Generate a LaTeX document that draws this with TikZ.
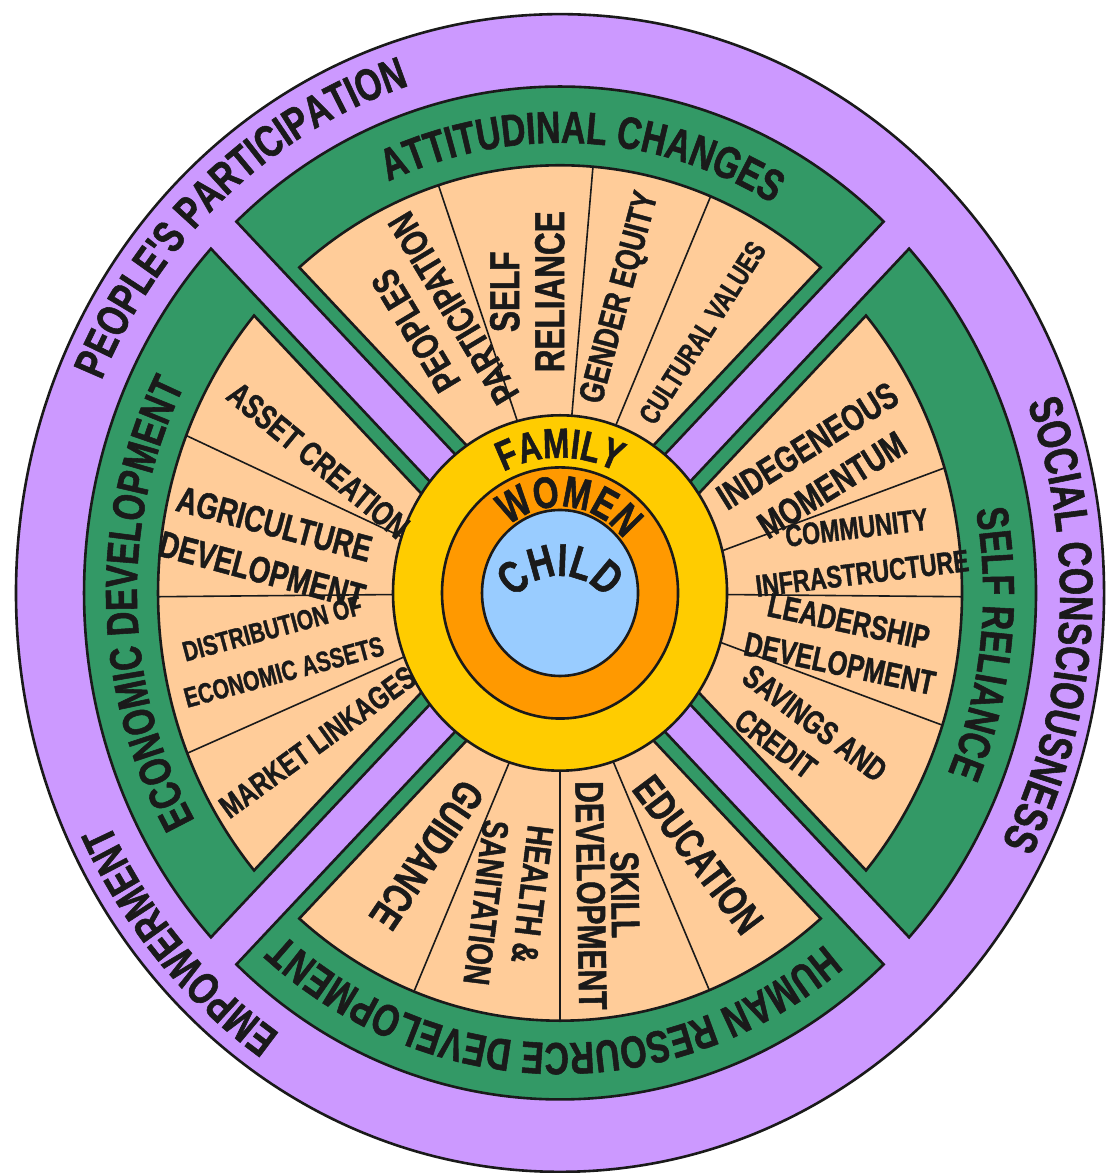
\documentclass[tikz,border=0pt]{standalone}
\usepackage{fontspec}
\setmainfont{Liberation Sans}
\newfontfamily\condfont[FakeStretch=0.75, FakeBold=1.2]{Liberation Sans Bold}
\usetikzlibrary{decorations.text}
\definecolor{wheelPurple}{HTML}{CC99FF}
\definecolor{wheelGreen}{HTML}{339966}
\definecolor{wheelPeach}{HTML}{FFCC99}
\definecolor{wheelYellow}{HTML}{FFCC00}
\definecolor{wheelOrange}{HTML}{FF9900}
\definecolor{wheelBlue}{HTML}{99CCFF}
\definecolor{wheelInk}{HTML}{1A1A1A}
% quadrant piece between two diagonals: style, mid angle, offset, inner r, outer r
\newcommand{\quadBand}[5]{
  \filldraw[#1] ({#2+45-asin(#3/#5)}:#5)
    arc[start angle={#2+45-asin(#3/#5)}, end angle={#2-45+asin(#3/#5)}, radius=#5]
    -- ({#2-45+asin(#3/#4)}:#4)
    arc[start angle={#2-45+asin(#3/#4)}, end angle={#2+45-asin(#3/#4)}, radius=#4]
    -- cycle;}

\begin{document}
\begin{tikzpicture}[
    x=0.5pt, y=0.532pt,
    outline/.style={draw=wheelInk, line width=1.3pt},
    band/.style={outline, fill=wheelGreen},
    fan/.style={outline, fill=wheelPeach},
    divline/.style={draw=wheelInk, line width=0.8pt},
    seclab/.style 2 args={font=\condfont\fontsize{#1}{#2}\selectfont,
                          text=wheelInk, align=center, inner sep=0pt},
    arctext/.style 2 args={decorate, decoration={text along path, text align=center,
                          text color=wheelInk, text={|\condfont\fontsize{#1}{#1}\selectfont|#2}}}
]
\useasboundingbox (-560,-545.1) rectangle (548,557.3);

% -- outer ring
\filldraw[outline, fill=wheelPurple] (0,0) circle[radius=544];

% -- green bands
\quadBand{band}{90}{18}{160}{476}
\quadBand{band}{0}{18}{160}{476}
\quadBand{band}{-90}{18}{160}{476}
\quadBand{band}{180}{18}{160}{476}

% -- peach fans
\quadBand{fan}{90}{32}{160}{402}
\quadBand{fan}{0}{32}{160}{402}
\quadBand{fan}{-90}{32}{160}{402}
\quadBand{fan}{180}{32}{160}{402}

% -- fan dividers
\draw[divline] (104.6:160) -- (107.6:402);
\draw[divline] (86:160) -- (85.3:402);
\draw[divline] (70.7:160) -- (68:402);
\draw[divline] (13.5:160) -- (17:402);
\draw[divline] (-0.5:160) -- (-0.5:402);
\draw[divline] (-16:160) -- (-18:402);
\draw[divline] (-107.4:160) -- (-111.3:402);
\draw[divline] (-90:160) -- (-90:402);
\draw[divline] (-71.7:160) -- (-68.2:402);
\draw[divline] (161.8:160) -- (158.4:402);
\draw[divline] (180.5:160) -- (180.5:402);
\draw[divline] (201:160) -- (202:402);

% -- centre rings
\filldraw[outline, fill=wheelYellow] (0,0) circle[radius=167];
\filldraw[outline, fill=wheelOrange] (0,0) circle[radius=118];
\filldraw[outline, fill=wheelBlue] (0,0) circle[radius=78];

% -- outer ring words
\path[arctext={22.5}{PEOPLE'S PARTICIPATION}] (191:500) arc[start angle=191, end angle=71, radius=500];
\path[arctext={23.5}{SOCIAL CONSCIOUSNESS}] (56.3:500) arc[start angle=56.3, end angle=-63.7, radius=500];
\path[arctext={22.5}{EMPOWERMENT}] (-78:500) arc[start angle=-78, end angle=-198, radius=500];

% -- green band words
\path[arctext={22.5}{ATTITUDINAL CHANGES}] (147:423) arc[start angle=147, end angle=27, radius=423];
\path[arctext={22.5}{SELF RELIANCE}] (53.3:423) arc[start angle=53.3, end angle=-66.7, radius=423];
\path[arctext={22.5}{HUMAN RESOURCE DEVELOPMENT}] (-26:423) arc[start angle=-26, end angle=-156, radius=423];
\path[arctext={22.5}{ECONOMIC DEVELOPMENT}] (241.5:423) arc[start angle=241.5, end angle=121.5, radius=423];

% -- centre words
\path[arctext={21}{FAMILY}] (170:127) arc[start angle=170, end angle=10, radius=127];
\path[arctext={22}{WOMEN}] (174:81) arc[start angle=174, end angle=-6, radius=81];
\path[arctext={23}{CHILD}] ([shift={(0,-44)}]170:60) arc[start angle=170, end angle=10, radius=60];

% -- top fan
\node[seclab={19}{22}, rotate=121] (peoples) at (116:286) {PEOPLES\\PARTICIPATION};
\node[seclab={21}{22.5}, rotate=90] (selfrel) at (96.6:285) {SELF\\RELIANCE};
\node[seclab={17.5}{21}, rotate=75] (gender) at (77.6:284) {GENDER EQUITY};
\node[seclab={14.5}{18}, rotate=57.5] (cultural) at (59.8:283) {CULTURAL VALUES};

% -- right fan
\node[seclab={18.5}{23}, rotate=32] (indeg) at (24.8:286) {INDEGENEOUS\\MOMENTUM};
\node[seclab={15.5}{23}, rotate=7] (commun) at (7.6:302) {COMMUNITY\\INFRASTRUCTURE};
\node[seclab={17}{21.5}, rotate=-12] (leader) at (-9.3:288) {LEADERSHIP\\DEVELOPMENT};
\node[seclab={16.5}{20}, rotate=-37, align=left] (savings) at (-29.5:279) {SAVINGS AND\\\hspace*{10pt}CREDIT};

% -- bottom fan
\node[seclab={21}{24}, rotate=-124] (guidance) at (-118.4:280) {GUIDANCE};
\node[seclab={18.5}{22.5}, rotate=-97, align=left] (health) at (-100:298) {HEALTH \&\\SANITATION};
\node[seclab={20}{17}, rotate=-89] (skill) at (-80.4:288) {SKILL\\DEVELOPMENT};
\node[seclab={21}{24}, rotate=-53] (education) at (-60.7:282) {EDUCATION};

% -- left fan
\node[seclab={17}{20}, rotate=-39.5] (asset) at (152.7:272) {ASSET CREATION};
\node[seclab={18.5}{24}, rotate=-15] (agri) at (171.6:295) {AGRICULTURE\\DEVELOPMENT};
\node[seclab={14}{22.5}, rotate=15] (distrib) at (190.8:287) {DISTRIBUTION OF\\ECONOMIC ASSETS};
\node[seclab={16}{20}, rotate=36] (market) at (210:280) {MARKET LINKAGES};

\end{tikzpicture}
\end{document}
